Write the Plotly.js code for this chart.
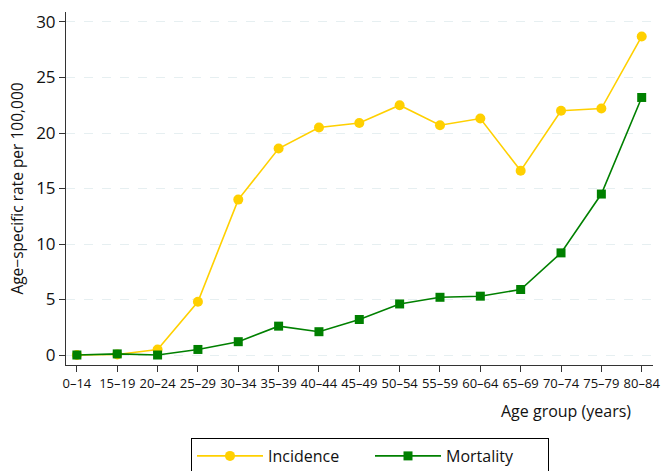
<!DOCTYPE html>
<html>
<head>
<meta charset="utf-8">
<script src="https://cdn.plot.ly/plotly-3.0.1.min.js"></script>
<style>html,body{margin:0;padding:0;background:#fff;}#chart{width:662px;height:471px;}</style>
</head>
<body>
<div id="chart"></div>
<script>
const ageGroups = ["0–14","15–19","20–24","25–29","30–34","35–39","40–44","45–49","50–54","55–59","60–64","65–69","70–74","75–79","80–84"];
const incidence = [0, 0.05, 0.5, 4.8, 14.0, 18.6, 20.5, 20.9, 22.5, 20.7, 21.3, 16.6, 22.0, 22.2, 28.7];
const mortality = [0, 0.1, 0, 0.5, 1.2, 2.6, 2.1, 3.2, 4.6, 5.2, 5.3, 5.9, 9.2, 14.5, 23.2];
const yTicks = [0, 5, 10, 15, 20, 25, 30];

const FONT = "Open Sans, Noto Sans, sans-serif";

const traces = [
  {
    x: ageGroups, y: incidence, name: "Incidence", type: "scatter", mode: "lines+markers",
    line: {color: "#FFD000", width: 1.6},
    marker: {symbol: "circle", size: 10, color: "#FFD000"}
  },
  {
    x: ageGroups, y: mortality, name: "Mortality", type: "scatter", mode: "lines+markers",
    line: {color: "#008000", width: 1.6},
    marker: {symbol: "square", size: 9, color: "#008000"}
  }
];

const layout = {
  width: 662, height: 471,
  margin: {l: 66, r: 9, t: 12, b: 106, autoexpand: false},
  paper_bgcolor: "#fff", plot_bgcolor: "#fff",
  font: {family: FONT, color: "#111"},
  showlegend: true,
  xaxis: {
    type: "category", range: [-0.27, 14.28],
    tickmode: "array", tickvals: ageGroups, ticktext: ageGroups,
    showline: true, linecolor: "#333", linewidth: 1,
    ticks: "outside", ticklen: 6, tickcolor: "#333",
    showgrid: false, zeroline: false,
    tickfont: {size: 13, family: FONT, color: "#111"},
    tickangle: 0, automargin: false
  },
  yaxis: {
    range: [-0.9, 30.9], tickvals: yTicks,
    showline: true, linecolor: "#333", linewidth: 1,
    ticks: "outside", ticklen: 6, tickcolor: "#333",
    showgrid: true, gridcolor: "#E6EFF1", griddash: "dash", gridwidth: 1,
    zeroline: false, automargin: false,
    tickfont: {size: 17, family: FONT, color: "#111"},
    title: {text: "Age−specific rate per 100,000", font: {size: 15.5, family: FONT, color: "#111"}, standoff: 8}
  },
  legend: {
    orientation: "h", x: (191-66)/587, xanchor: "left", y: (365-438)/353, yanchor: "top",
    bordercolor: "#000", borderwidth: 1,
    font: {size: 16, family: FONT, color: "#111"},
    itemwidth: 66, entrywidth: 97
  },
  annotations: [
    {text: "Age group (years)", xref: "paper", yref: "paper", x: (633-66)/587, y: (365-411)/353,
     xanchor: "right", yanchor: "middle", showarrow: false, font: {size: 16, family: FONT, color: "#111"}}
  ]
};

Plotly.newPlot("chart", traces, layout, {displayModeBar: false, staticPlot: true});
</script>
</body>
</html>
